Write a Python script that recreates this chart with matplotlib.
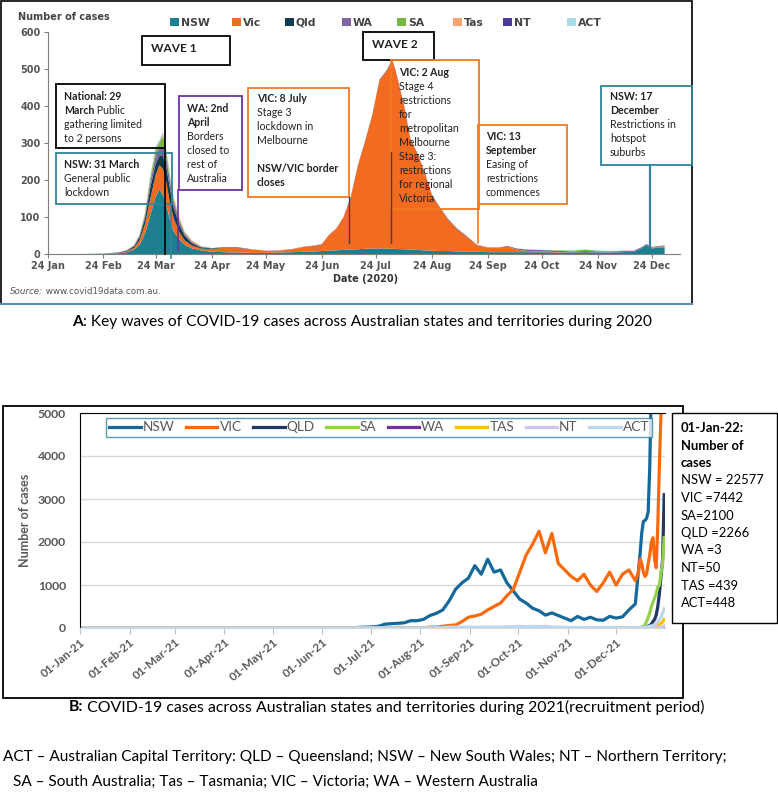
import numpy as np
import pandas as pd
import matplotlib
matplotlib.use("Agg")
import matplotlib.pyplot as plt
import matplotlib.dates as mdates
from matplotlib.patches import Rectangle
from matplotlib.lines import Line2D

W, H = 778, 792

# ---------------- panel A data (2020, stacked daily cases) ----------------
a_dates = pd.to_datetime([
    "2020-01-24", "2020-02-10", "2020-02-24", "2020-03-03", "2020-03-08", "2020-03-12", "2020-03-15", "2020-03-18", "2020-03-21", "2020-03-24",
    "2020-03-26", "2020-03-28", "2020-03-30", "2020-04-01", "2020-04-03", "2020-04-06", "2020-04-09", "2020-04-13", "2020-04-18", "2020-04-24",
    "2020-05-01", "2020-05-08", "2020-05-16", "2020-05-24", "2020-06-01", "2020-06-08", "2020-06-15", "2020-06-20", "2020-06-24", "2020-06-28",
    "2020-07-02", "2020-07-06", "2020-07-10", "2020-07-14", "2020-07-18", "2020-07-22", "2020-07-26", "2020-07-30", "2020-08-02", "2020-08-04",
    "2020-08-06", "2020-08-09", "2020-08-12", "2020-08-16", "2020-08-20", "2020-08-24", "2020-08-28", "2020-09-02", "2020-09-07", "2020-09-12",
    "2020-09-18", "2020-09-24", "2020-09-30", "2020-10-05", "2020-10-10", "2020-10-16", "2020-10-24", "2020-11-01", "2020-11-10", "2020-11-17",
    "2020-11-24", "2020-12-01", "2020-12-08", "2020-12-14", "2020-12-18", "2020-12-21", "2020-12-24", "2020-12-28", "2020-12-31"])
a_nsw = [0, 0, 1, 2, 5, 12, 25, 55, 105, 155, 175, 160, 130, 90, 60, 40, 25, 15, 10, 6,
         5, 4, 3, 3, 4, 5, 6, 7, 8, 9, 10, 11, 12, 13, 14, 15, 15, 15, 14, 14,
         13, 13, 12, 11, 10, 9, 8, 8, 7, 6, 6, 5, 5, 5, 5, 5, 5, 4, 4, 5,
         4, 4, 5, 6, 15, 25, 15, 18, 18]
a_vic = [0, 0, 0, 1, 2, 5, 12, 25, 45, 60, 65, 70, 60, 45, 35, 20, 12, 8, 5, 7,
         12, 13, 9, 6, 5, 8, 14, 15, 18, 42, 58, 88, 140, 225, 290, 360, 455, 480, 510, 480,
         440, 380, 300, 260, 210, 150, 120, 85, 60, 42, 18, 12, 12, 15, 7, 3, 2, 1, 0, 0,
         0, 0, 0, 0, 0, 0, 2, 2, 3]
a_qld = [0, 0, 0, 1, 2, 4, 8, 15, 30, 30, 25, 35, 40, 38, 30, 20, 12, 6, 3, 2,
         1, 1, 0, 0, 0, 0, 0, 0, 0, 0, 0, 0, 1, 1, 1, 1, 1, 1, 1, 1,
         1, 1, 1, 1, 1, 1, 1, 1, 1, 1, 0, 0, 0, 0, 0, 0, 0, 0, 0, 0,
         0, 0, 0, 0, 0, 0, 0, 0, 0]
a_wa = [0, 0, 0, 0, 1, 2, 4, 8, 15, 22, 20, 25, 25, 20, 15, 10, 6, 4, 2, 1,
        1, 1, 1, 0, 1, 1, 1, 1, 1, 1, 1, 1, 1, 1, 1, 1, 1, 1, 1, 1,
        1, 1, 1, 1, 1, 1, 1, 1, 1, 1, 1, 1, 1, 2, 3, 4, 4, 4, 3, 3,
        3, 3, 3, 3, 3, 2, 2, 2, 2]
a_sa = [0, 0, 0, 0, 1, 1, 3, 6, 12, 15, 15, 30, 15, 10, 8, 5, 3, 1, 0, 0,
        0, 0, 0, 0, 0, 0, 0, 0, 0, 0, 0, 0, 0, 0, 0, 0, 0, 0, 0, 0,
        0, 0, 0, 0, 0, 0, 0, 0, 0, 0, 0, 0, 0, 0, 0, 0, 0, 1, 2, 4,
        2, 1, 1, 0, 0, 0, 0, 0, 0]
a_tas = [0, 0, 0, 0, 0, 0, 1, 1, 2, 4, 3, 4, 5, 4, 4, 5, 3, 3, 2, 0] + [0] * 49
a_nt = [0, 0, 0, 0, 0, 0, 0, 0, 1, 1, 1, 1, 1, 1, 0] + [0] * 54
a_act = [0, 0, 0, 0, 0, 0, 0, 1, 3, 5, 4, 5, 3, 3, 2, 1, 1, 0, 0, 0] + [0] * 49
a_names = ["NSW", "Vic", "Qld", "WA", "SA", "Tas", "NT", "ACT"]
a_colors = ["#1e7f91", "#f26b21", "#0d3b4f", "#8064a2", "#77b843", "#f7a56f", "#4a3a9b", "#a9dce9"]

# ---------------- panel B data (2021, daily cases per state) ----------------
b_dates = pd.to_datetime(["2021-01-01", "2021-01-15", "2021-02-01", "2021-02-15", "2021-03-01", "2021-03-15",
                          "2021-04-01", "2021-04-15", "2021-05-01", "2021-05-15", "2021-06-01", "2021-06-15"]
                         + list(pd.date_range("2021-06-20", "2021-12-13", freq="4D"))
                         + list(pd.date_range("2021-12-15", "2021-12-31")))
b_nsw = ([10, 8, 3, 2, 3, 2, 5, 3, 2, 3, 4, 5]
         + [5, 15, 20, 25, 40, 90, 100, 110, 120, 170, 170, 200, 290, 340, 420, 630, 900, 1050, 1160, 1450,
            1250, 1600, 1300, 1350, 1050, 860, 670, 580, 460, 400, 300, 350, 290, 230, 170, 270, 200, 250, 190, 180,
            270, 230, 260, 420, 560]
         + [1360, 1740, 2210, 2480, 2500, 2550, 2700, 3760, 5710, 6290, 6390, 6320, 6060, 11200, 12230, 21150, 22577])
b_vic = ([3, 2, 1, 2, 1, 1, 1, 1, 1, 2, 8, 3]
         + [0, 0, 0, 0, 0, 0, 5, 15, 10, 5, 2, 5, 20, 20, 40, 60, 70, 150, 250, 280,
            320, 420, 500, 580, 750, 900, 1300, 1700, 1950, 2250, 1750, 2200, 1500, 1350, 1200, 1100, 1250, 1000, 850, 1050,
            1300, 1000, 1250, 1350, 1100]
         + [1300, 1600, 1500, 1300, 1200, 1250, 1500, 1700, 2000, 2100, 1600, 1400, 2400, 3800, 5000, 5900, 7442])
b_qld = ([2, 1, 0, 0, 0, 3, 2, 0, 1, 0, 0, 2]
         + [0, 0, 0, 2, 0, 0, 0, 0, 0, 0, 5, 10, 5, 2] + [0] * 31
         + [5, 10, 15, 20, 25, 30, 40, 60, 90, 150, 200, 300, 500, 800, 1200, 1600, 3100])
b_sa = ([0] * 12
        + [0] * 37 + [3, 5, 2] + [0] * 5
        + [0, 5, 20, 30, 70, 150, 250, 350, 500, 600, 700, 800, 950, 1000, 1300, 1500, 2100])
b_wa = ([0, 0, 3, 0, 0, 0, 0, 2, 0, 0, 0, 0]
        + [0] * 45
        + [0, 0, 0, 0, 0, 0, 0, 0, 0, 0, 0, 0, 0, 1, 2, 3, 3])
b_tas = ([0] * 12 + [0] * 45
         + [0, 0, 0, 0, 0, 1, 5, 10, 15, 20, 30, 50, 70, 90, 110, 140, 200])
b_nt = ([0] * 12
        + [0] * 34 + [2, 5, 8, 6, 4, 3] + [0] * 5
        + [0, 0, 0, 0, 0, 0, 0, 0, 2, 3, 5, 8, 10, 15, 20, 30, 50])
b_act = ([0] * 12
         + [0] * 14 + [10, 20, 20, 20, 20, 15, 20, 25, 20, 20, 30, 30, 40, 30, 40, 30, 40, 25, 20, 15,
                       10, 12, 10, 5, 5, 10, 10, 5, 5, 5, 5]
         + [10, 10, 12, 15, 15, 20, 30, 40, 50, 60, 80, 100, 150, 200, 250, 350, 450])
b_names = ["NSW", "VIC", "QLD", "SA", "WA", "TAS", "NT", "ACT"]
b_colors = ["#15699a", "#fb6a0a", "#1f3864", "#92d050", "#7030a0", "#ffc000", "#cdc6f2", "#bdd7ee"]

jan22_lines = ["NSW = 22577", "VIC =7442", "SA=2100", "QLD =2266", "WA =3", "NT=50", "TAS =439", "ACT=448"]


def px_box(x0, y0, x1, y1):
    return [x0 / W, 1 - y1 / H, (x1 - x0) / W, (y1 - y0) / H]


fig = plt.figure(figsize=(W / 100, H / 100), dpi=100)
fig.patch.set_facecolor("white")

# ---------------- panel A ----------------
axA = fig.add_axes(px_box(47.5, 32, 680, 254))
a_start = pd.Timestamp("2020-01-24")
a_end = a_start + pd.Timedelta(days=(680 - 47.5) / 1.8045)
axA.stackplot(a_dates, a_nsw, a_vic, a_qld, a_wa, a_sa, a_tas, a_nt, a_act,
              colors=a_colors, lw=0)
axA.set_xlim(a_start, a_end)
axA.set_ylim(0, 600)
axA.set_yticks(range(0, 601, 100))
axA.set_xticks(pd.date_range("2020-01-01", "2020-12-01", freq="MS") + pd.Timedelta(days=23))
axA.xaxis.set_major_formatter(mdates.DateFormatter("%d %b"))
for s in ["top", "right"]:
    axA.spines[s].set_visible(False)
for s in ["left", "bottom"]:
    axA.spines[s].set_color("#7f7f7f")
axA.tick_params(length=3, color="#7f7f7f", labelsize=7, labelcolor="#555555", pad=2)
for lab in axA.get_xticklabels() + axA.get_yticklabels():
    lab.set_fontweight("bold")
axA.set_facecolor("none")

# ---------------- panel B ----------------
axB = fig.add_axes(px_box(80, 413, 665, 628))
b_start = pd.Timestamp("2021-01-01")
b_end = b_start + pd.Timedelta(days=(665 - 80) / 1.605)
for name, col, vals in zip(b_names, b_colors, [b_nsw, b_vic, b_qld, b_sa, b_wa, b_tas, b_nt, b_act]):
    axB.plot(b_dates, vals, color=col, lw=2.3, label=name, solid_joinstyle="round")
axB.set_xlim(b_start, b_end)
axB.set_ylim(0, 5000)
axB.set_yticks(range(0, 5001, 1000))
axB.yaxis.grid(True, color="#d9d9d9", lw=1)
axB.set_axisbelow(True)
axB.set_xticks(pd.date_range("2021-01-01", "2021-12-01", freq="MS"))
axB.xaxis.set_major_formatter(mdates.DateFormatter("%d-%b-%y"))
axB.spines["right"].set_visible(False)
axB.spines["bottom"].set_color("#d9d9d9")
axB.spines["top"].set_color("black")
axB.spines["left"].set_color("black")
axB.tick_params(axis="y", length=0, pad=10, labelsize=8.8, labelcolor="#595959")
axB.tick_params(axis="x", length=4, color="#bfbfbf", labelsize=8.5, labelcolor="#595959", pad=2)
for lab in axB.get_yticklabels():
    lab.set_fontweight("bold")
    lab.set_family("Lato")
for lab in axB.get_xticklabels():
    lab.set_fontweight("bold")
    lab.set_family("Lato")
    lab.set_rotation(40)
    lab.set_ha("right")
    lab.set_rotation_mode("anchor")
leg = axB.legend(loc="upper left", bbox_to_anchor=(106 / W, 1 - 418 / H), bbox_transform=fig.transFigure,
                 ncol=8, frameon=True, fancybox=False, borderaxespad=0, handlelength=2.3,
                 handletextpad=0.15, columnspacing=0.85, borderpad=0.25,
                 prop={"family": "Lato", "size": 9.8})
leg.get_frame().set_edgecolor("#31859c")
leg.get_frame().set_linewidth(1)
for t in leg.get_texts():
    t.set_color("#595959")

# ---------------- overlay in pixel coordinates ----------------
ov = fig.add_axes([0, 0, 1, 1], zorder=10)
ov.set_xlim(0, W)
ov.set_ylim(H, 0)
ov.axis("off")
renderer = fig.canvas.get_renderer()


def rect(x0, y0, x1, y1, color, lw=1.2, fill=None, z=2):
    ov.add_patch(Rectangle((x0, y0), x1 - x0, y1 - y0, fill=fill is not None,
                           facecolor=fill or "none", edgecolor=color, lw=lw, zorder=z))


def vline(x, y0, y1, color, lw=1.2):
    ov.add_line(Line2D([x, x], [y0, y1], color=color, lw=lw))


def rich(x, y, parts, center=False, **kw):
    # parts: list of (text, props); drawn one after another on the same baseline
    texts = []
    cur = x
    for s, props in parts:
        t = ov.text(cur, y, s, va="center", zorder=5, **kw, **props)
        cur += t.get_window_extent(renderer).width
        texts.append(t)
    if center:
        shift = (cur - x) / 2
        for t in texts:
            t.set_x(t.get_position()[0] - shift)
    return texts


# frames
rect(1, 1, 692, 304, "black", 1.2)
ov.add_line(Line2D([1, 692], [304, 304], color="#5b8db5", lw=1.5))
rect(3, 406, 683, 698, "black", 1.3)
rect(672, 413, 777, 623, "black", 1.0, fill="white", z=4)

# panel A legend
ov.text(18, 17, "Number of cases", fontsize=7, fontweight="bold", color="#444444", va="center",
        family="DejaVu Sans")
leg_x = [170, 232, 285, 342, 397, 453, 503, 567]
for xx, name, col in zip(leg_x, a_names, a_colors):
    ov.add_patch(Rectangle((xx, 18), 9, 8, facecolor=col, edgecolor="none"))
    ov.text(xx + 11, 22.5, name, fontsize=7.8, fontweight="bold", color="#444444", va="center",
            family="DejaVu Sans")

ov.text(366, 279, "Date (2020)", fontsize=7, fontweight="bold", color="#333333", ha="center",
        va="center", family="DejaVu Sans")
rich(10, 292, [("Source:", {"style": "italic"}), (" www.covid19data.com.au.", {})],
     fontsize=6.3, color="#555555", family="DejaVu Sans")

# callout boxes
TXT = "#222222"
B = {"fontweight": "bold"}
N = {}
callouts = [
    ((142, 36, 230, 65), "black", 151, 49, [[("WAVE 1", B)]], 8.6),
    ((363, 32, 434, 60), "black", 372, 45, [[("WAVE 2", B)]], 8.6),
    ((56, 84, 165, 148), "black", 64, 97,
     [[("National: 29", B)], [("March", B), (" Public", N)], [("gathering limited", N)], [("to 2 persons", N)]], 7.6),
    ((56, 153, 172, 204), "#31849b", 64, 165,
     [[("NSW: 31 March", B)], [("General public", N)], [("lockdown", N)]], 7.6),
    ((179, 96, 242, 190), "#7030a0", 187, 108,
     [[("WA: 2nd", B)], [("April", B)], [("Borders", N)], [("closed to", N)], [("rest of", N)], [("Australia", N)]], 7.6),
    ((248, 88, 349, 197), "#f47a20", 257, 99,
     [[("VIC: 8 July", B)], [("Stage 3", N)], [("lockdown in", N)], [("Melbourne", N)], [("", N)],
      [("NSW/VIC border", B)], [("closes", B)]], 7.6),
    ((391, 60, 479, 209), "#f47a20", 399, 72,
     [[("VIC: 2 Aug", B)], [("Stage 4", N)], [("restrictions", N)], [("for", N)], [("metropolitan", N)],
      [("Melbourne", N)], [("Stage 3:", N)], [("restrictions", N)], [("for regional", N)], [("Victoria", N)]], 7.6),
    ((478, 125, 567, 204), "#f47a20", 486, 137,
     [[("VIC: 13", B)], [("September", B)], [("Easing of", N)], [("restrictions", N)], [("commences", N)]], 7.6),
    ((601, 86, 692, 165), "#31849b", 610, 97,
     [[("NSW: 17", B)], [("December", B)], [("Restrictions in", N)], [("hotspot", N)], [("suburbs", N)]], 7.6),
]
for (x0, y0, x1, y1), col, tx, ty, lines, fs in callouts:
    rect(x0, y0, x1, y1, col, 1.3)
    for i, parts in enumerate(lines):
        rich(tx, ty + i * 14, parts, fontsize=fs, color=TXT, family="Lato")

# pointer lines
vline(165, 148, 254, "black")
vline(171, 204, 258, "#31849b")
vline(178, 190, 250, "#7030a0")
vline(349, 197, 243, "#444444", 1.0)
vline(391, 152, 243, "#444444", 1.0)
vline(478, 204, 243, "#f47a20")
vline(650, 165, 248, "#31849b", 1.6)

# panel B side text
ov.text(25, 520, "Number of cases", rotation=90, fontsize=9, fontweight="bold", color="#595959",
        ha="center", va="center", family="Lato")
side = [("01-Jan-22:", True), ("Number of", True), ("cases", True)] + [(s, False) for s in jan22_lines]
for i, (s, bold) in enumerate(side):
    ov.text(681, 428 + i * 17.5, s, fontsize=9.4, fontweight="bold" if bold else "normal",
            color="black", va="center", family="Lato", zorder=6)

# captions
rich(362, 322, [("A", B), (": Key waves of COVID-19 cases across Australian states and territories during 2020", N)],
     center=True, fontsize=11.2, color="black", family="Lato")
rich(69, 707, [("B:", B), (" COVID-19 cases across Australian states and territories during 2021(recruitment period)", N)],
     fontsize=11.4, color="black", family="Lato")
ov.text(3, 757, "ACT – Australian Capital Territory: QLD – Queensland; NSW – New South Wales; NT – Northern Territory;",
        fontsize=11.1, va="center", color="black", family="Lato")
ov.text(13, 782, "SA – South Australia; Tas – Tasmania; VIC – Victoria; WA – Western Australia",
        fontsize=11.1, va="center", color="black", family="Lato")

fig.savefig("out.png", dpi=100)
